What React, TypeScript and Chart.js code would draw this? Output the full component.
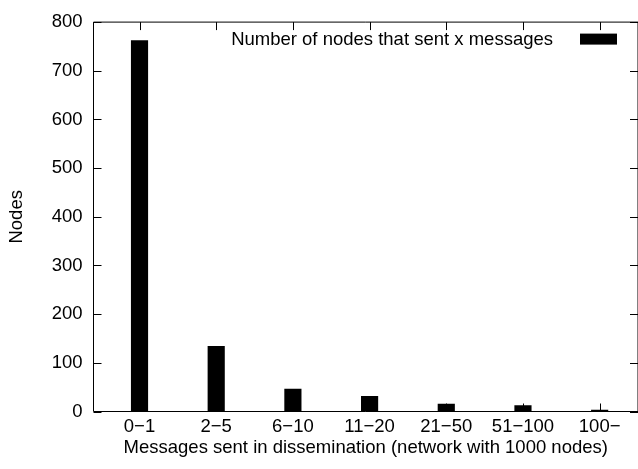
import React, { useEffect, useRef } from "react";
import { Chart, registerables } from "chart.js";

Chart.register(...registerables);

const categories = ["0\u22121", "2\u22125", "6\u221210", "11\u221220", "21\u221250", "51\u2212100", "100\u2212"];
const nodeCounts = [762, 134, 46, 31, 15, 12, 3];
const yTicks = [0, 100, 200, 300, 400, 500, 600, 700, 800];
const seriesLabel = "Number of nodes that sent x messages";
const xTitle = "Messages sent in dissemination (network with 1000 nodes)";
const yTitle = "Nodes";

const FAMILY = "'Liberation Sans', Arial, Helvetica, sans-serif";
const FONT_SIZE = 18.5;

const framePlugin = {
  id: "gnuplotFrame",
  afterDatasetsDraw(chart: any) {
    const { ctx, chartArea, scales } = chart;
    const { left, right, top, bottom } = chartArea;
    const tick = 8;
    ctx.save();
    ctx.strokeStyle = "#000";
    ctx.lineWidth = 1;
    ctx.beginPath();
    // frame
    ctx.moveTo(left, top);
    ctx.lineTo(right, top);
    ctx.moveTo(left, top);
    ctx.lineTo(left, bottom);
    ctx.moveTo(left, bottom);
    ctx.lineTo(right, bottom);
    ctx.moveTo(right, top);
    ctx.lineTo(right, bottom);
    // y ticks, mirrored
    yTicks.forEach((v) => {
      const y = Math.round(scales.y.getPixelForValue(v)) + 0.5;
      ctx.moveTo(left, y);
      ctx.lineTo(left + tick, y);
      ctx.moveTo(right, y);
      ctx.lineTo(right - tick, y);
    });
    // x ticks, mirrored
    categories.forEach((_, i) => {
      const x = Math.round(scales.x.getPixelForValue(i)) + 0.5;
      ctx.moveTo(x, bottom);
      ctx.lineTo(x, bottom - tick);
      ctx.moveTo(x, top);
      ctx.lineTo(x, top + tick);
    });
    ctx.stroke();

    // key (gnuplot style: text then swatch)
    const swatchRight = right - 21;
    const swatchLeft = swatchRight - 37;
    const keyY = top + 17;
    ctx.fillStyle = "#000";
    ctx.fillRect(swatchLeft, keyY - 5.5, 37, 11);
    ctx.font = `${FONT_SIZE}px ${FAMILY}`;
    ctx.textAlign = "right";
    ctx.textBaseline = "middle";
    ctx.fillText(chart.data.datasets[0].label, swatchLeft - 27, keyY + 1);
    ctx.restore();
  },
};

export default function App() {
  const canvasRef = useRef<HTMLCanvasElement | null>(null);

  useEffect(() => {
    if (!canvasRef.current) return;
    const font = { family: FAMILY, size: FONT_SIZE };
    const chart = new Chart(canvasRef.current, {
      type: "bar",
      data: {
        datasets: [
          {
            label: seriesLabel,
            data: categories.map((_, i) => ({ x: i, y: nodeCounts[i] })),
            backgroundColor: "#000",
            borderWidth: 0,
            barThickness: 16.5,
          } as any,
        ],
      },
      options: {
        animation: false,
        responsive: false,
        devicePixelRatio: 1,
        layout: { padding: { top: 20.5, right: 0, bottom: 0, left: 0 } },
        plugins: {
          legend: { display: false },
          tooltip: { enabled: false },
        },
        scales: {
          x: {
            type: "linear",
            offset: false,
            min: -0.6,
            max: 6.5,
            afterBuildTicks: (s: any) => {
              s.ticks = categories.map((_, i) => ({ value: i }));
            },
            afterFit: (s: any) => {
              s.height = 57.5;
            },
            ticks: {
              callback: (v: any) => categories[v as number],
              font,
              color: "#000",
              padding: 4,
              autoSkip: false,
              maxRotation: 0,
            },
            grid: { display: false, drawTicks: false, offset: false },
            border: { display: false },
            title: {
              display: true,
              text: xTitle,
              font,
              color: "#000",
              padding: { top: 0, bottom: 10 },
            },
          },
          y: {
            min: 0,
            max: 800,
            afterBuildTicks: (s: any) => {
              s.ticks = yTicks.map((v) => ({ value: v }));
            },
            afterFit: (s: any) => {
              s.width = 93.5;
            },
            ticks: { font, color: "#000", padding: 11 },
            grid: { display: false, drawTicks: false },
            border: { display: false },
            title: {
              display: true,
              text: yTitle,
              font,
              color: "#000",
              padding: { top: 6, bottom: 0 },
            },
          },
        },
      } as any,
      plugins: [framePlugin],
    });
    return () => chart.destroy();
  }, []);

  return (
    <div style={{ position: "absolute", left: 0, top: 0, width: 638, height: 469, background: "#fff" }}>
      <canvas ref={canvasRef} width={638} height={469} style={{ display: "block" }} />
    </div>
  );
}
